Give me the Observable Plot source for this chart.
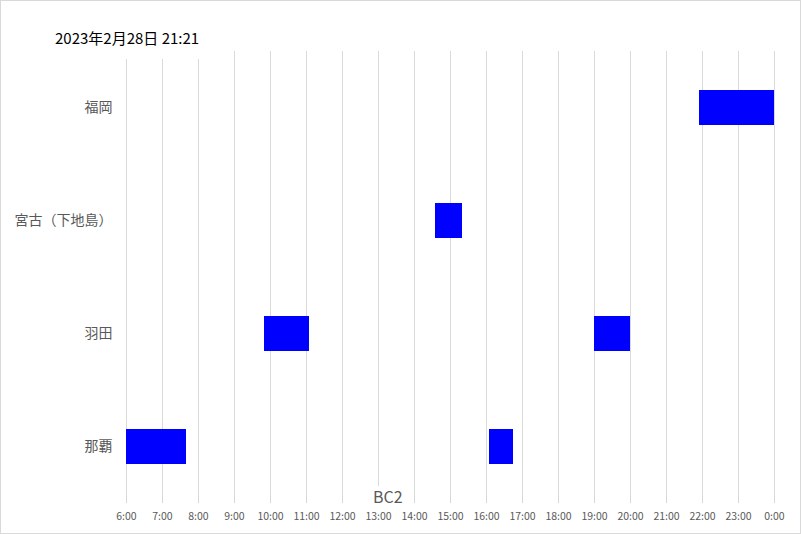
<!DOCTYPE html>
<html>
<head>
<meta charset="utf-8">
<script src="https://cdn.jsdelivr.net/npm/d3@7"></script>
<script src="https://cdn.jsdelivr.net/npm/@observablehq/plot@0.6"></script>
<style>
  body { margin: 0; background: white; }
  #wrap { position: relative; width: 801px; height: 534px; font-family: 'Noto Sans CJK JP', sans-serif; }
  #wrap svg { position: absolute; left: 0; top: 0; }
  #title { position: absolute; left: 50px; top: 25px; padding: 4px 5px 12px 5px; line-height: 18px; font-size: 15px; color: #000; background: white; white-space: nowrap; }
  #xlabel { position: absolute; left: 372px; top: 486px; line-height: 20px; font-size: 16px; color: #595959; background: white; padding: 0 1px 4px 1px; }
  #frame { position: absolute; left: 0; top: 0; width: 801px; height: 534px; box-sizing: border-box; border: 1px solid #d9d9d9; pointer-events: none; }
</style>
</head>
<body>
<div id="wrap"></div>
<script>
// Row order (top to bottom)
const rows = ["福岡", "宮古（下地島）", "羽田", "那覇"];
// Bars
const airports = ["那覇", "那覇", "羽田", "羽田", "宮古（下地島）", "福岡"];
const starts   = ["6:00", "16:05", "9:50", "19:00", "14:35", "21:55"];
const ends     = ["7:40", "16:45", "11:05", "20:00", "15:20", "24:00"];
// Axis ticks (hours)
const tickHours = [6,7,8,9,10,11,12,13,14,15,16,17,18,19,20,21,22,23,24];
const titleText = "2023年2月28日 21:21";
const xLabelText = "BC2";

const toHours = s => { const [h, m] = s.split(":").map(Number); return h + m / 60; };
const data = airports.map((a, i) => ({ airport: a, start: toHours(starts[i]), end: toHours(ends[i]) }));

const chart = Plot.plot({
  width: 801,
  height: 534,
  marginLeft: 126,
  marginRight: 27,
  marginTop: 51,
  marginBottom: 31,
  style: { fontFamily: "'Noto Sans CJK JP', sans-serif", background: "white", overflow: "visible" },
  x: { domain: [6, 24] },
  y: { domain: rows, paddingInner: 0.69, paddingOuter: 0.345 },
  marks: [
    Plot.gridX(tickHours, { stroke: "#d9d9d9", strokeOpacity: 1, strokeWidth: 1 }),
    Plot.barX(data, { x1: "start", x2: "end", y: "airport", fill: "#0000ff" }),
    Plot.axisX(tickHours, { tickFormat: h => `${h % 24}:00`, tickSize: 0, tickPadding: 9, fontSize: 10.5, fill: "#595959", label: null }),
    Plot.axisY({ tickSize: 0, tickPadding: 14, fontSize: 14, fill: "#595959", label: null })
  ]
});

const wrap = document.getElementById("wrap");
wrap.appendChild(chart);
const t = document.createElement("div"); t.id = "title"; t.textContent = titleText; wrap.appendChild(t);
const xl = document.createElement("div"); xl.id = "xlabel"; xl.textContent = xLabelText; wrap.appendChild(xl);
const f = document.createElement("div"); f.id = "frame"; wrap.appendChild(f);
</script>
</body>
</html>
